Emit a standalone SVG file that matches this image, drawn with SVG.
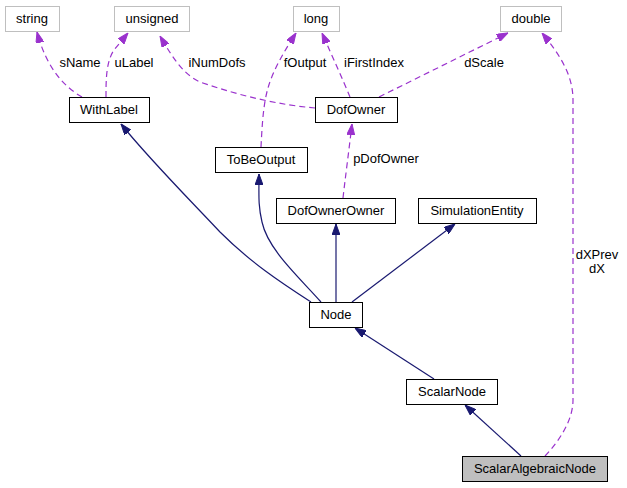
<svg xmlns="http://www.w3.org/2000/svg" width="627" height="488" viewBox="0 0 627 488">
<defs>
<style>
text{font-family:"Liberation Sans",Arial,sans-serif;font-size:13px;fill:#000;}
.n{text-anchor:middle;}
.box{fill:#fff;stroke:#000;stroke-width:1;}
.ext{fill:#fff;stroke:#bfbfbf;stroke-width:1;}
.cur{fill:#bfbfbf;stroke:#000;stroke-width:1;}
.inh{fill:none;stroke:#191970;stroke-width:1.2;}
.use{fill:none;stroke:#9a32cd;stroke-width:1.2;stroke-dasharray:6,4;}
</style>
<marker id="an" markerUnits="userSpaceOnUse" viewBox="0 0 11 8" refX="11" refY="4" markerWidth="11" markerHeight="8" orient="auto">
<path d="M0,0 L11,4 L0,8 Z" fill="#191970" stroke="#191970"/>
</marker>
<marker id="ap" markerUnits="userSpaceOnUse" viewBox="0 0 11 8" refX="11" refY="4" markerWidth="11" markerHeight="8" orient="auto">
<path d="M0,0 L11,4 L0,8 Z" fill="#9a32cd" stroke="#9a32cd"/>
</marker>
</defs>
<rect width="627" height="488" fill="#fff"/>
<g id="connectors">
<path class="use" d="M82,97 C66,88 47,70 37,32" marker-end="url(#ap)"/>
<path class="use" d="M106,97 C106,80 106,62 114,50 L128,33" marker-end="url(#ap)"/>
<path class="use" d="M315,108 C280,105 240,96 200,82 C185,75 175,62 160,36" marker-end="url(#ap)"/>
<path class="use" d="M261,147 C262,128 263,105 268,88 C273,70 285,50 296,33" marker-end="url(#ap)"/>
<path class="use" d="M350,97 C343,80 333,58 322,33" marker-end="url(#ap)"/>
<path class="use" d="M379,97 L508,33" marker-end="url(#ap)"/>
<path class="use" d="M343,198 C345,180 349,150 352,124" marker-end="url(#ap)"/>
<path class="use" d="M545,456 C560,440 573,420 573,400 L573,100 C573,75 560,55 542,33" marker-end="url(#ap)"/>
<path class="inh" d="M311,302 C280,282 250,262 220,232 C190,200 150,160 121,124" marker-end="url(#an)"/>
<path class="inh" d="M321,302 C300,278 268,250 262,222 C258,205 259,195 259,174" marker-end="url(#an)"/>
<path class="inh" d="M336,302 L336,224" marker-end="url(#an)"/>
<path class="inh" d="M352,302 L455,224" marker-end="url(#an)"/>
<path class="inh" d="M434,379 L355,328" marker-end="url(#an)"/>
<path class="inh" d="M521,456 L465,405" marker-end="url(#an)"/>
<text class="n" x="80" y="67">sName</text>
<text class="n" x="134" y="67">uLabel</text>
<text class="n" x="217" y="67">iNumDofs</text>
<text class="n" x="305" y="67">fOutput</text>
<text class="n" x="374" y="67">iFirstIndex</text>
<text class="n" x="484" y="67">dScale</text>
<text class="n" x="386" y="163">pDofOwner</text>
<text class="n" x="597" y="259">dXPrev</text>
<text class="n" x="597" y="273">dX</text>
</g>
<g id="string"><rect class="ext" x="5.5" y="6.5" width="54" height="25"/><text class="n" x="32" y="23">string</text></g>
<g id="unsigned"><rect class="ext" x="114.5" y="6.5" width="75" height="25"/><text class="n" x="152" y="23">unsigned</text></g>
<g id="long"><rect class="ext" x="293.5" y="6.5" width="46" height="25"/><text class="n" x="316" y="23">long</text></g>
<g id="double"><rect class="ext" x="500.5" y="6.5" width="61" height="25"/><text class="n" x="531" y="23">double</text></g>
<g id="WithLabel"><rect class="box" x="69.5" y="97.5" width="80" height="25"/><text class="n" x="109" y="114">WithLabel</text></g>
<g id="DofOwner"><rect class="box" x="315.5" y="97.5" width="82" height="25"/><text class="n" x="356" y="114">DofOwner</text></g>
<g id="ToBeOutput"><rect class="box" x="215.5" y="147.5" width="92" height="25"/><text class="n" x="261" y="164">ToBeOutput</text></g>
<g id="DofOwnerOwner"><rect class="box" x="276.5" y="198.5" width="119" height="25"/><text class="n" x="336" y="215">DofOwnerOwner</text></g>
<g id="SimulationEntity"><rect class="box" x="418.5" y="198.5" width="118" height="25"/><text class="n" x="477" y="215">SimulationEntity</text></g>
<g id="Node"><rect class="box" x="309.5" y="302.5" width="53" height="25"/><text class="n" x="336" y="319">Node</text></g>
<g id="ScalarNode"><rect class="box" x="406.5" y="379.5" width="91" height="25"/><text class="n" x="452" y="396">ScalarNode</text></g>
<g id="ScalarAlgebraicNode"><rect class="cur" x="462.5" y="456.5" width="145" height="25"/><text class="n" x="535" y="473">ScalarAlgebraicNode</text></g>
</svg>
